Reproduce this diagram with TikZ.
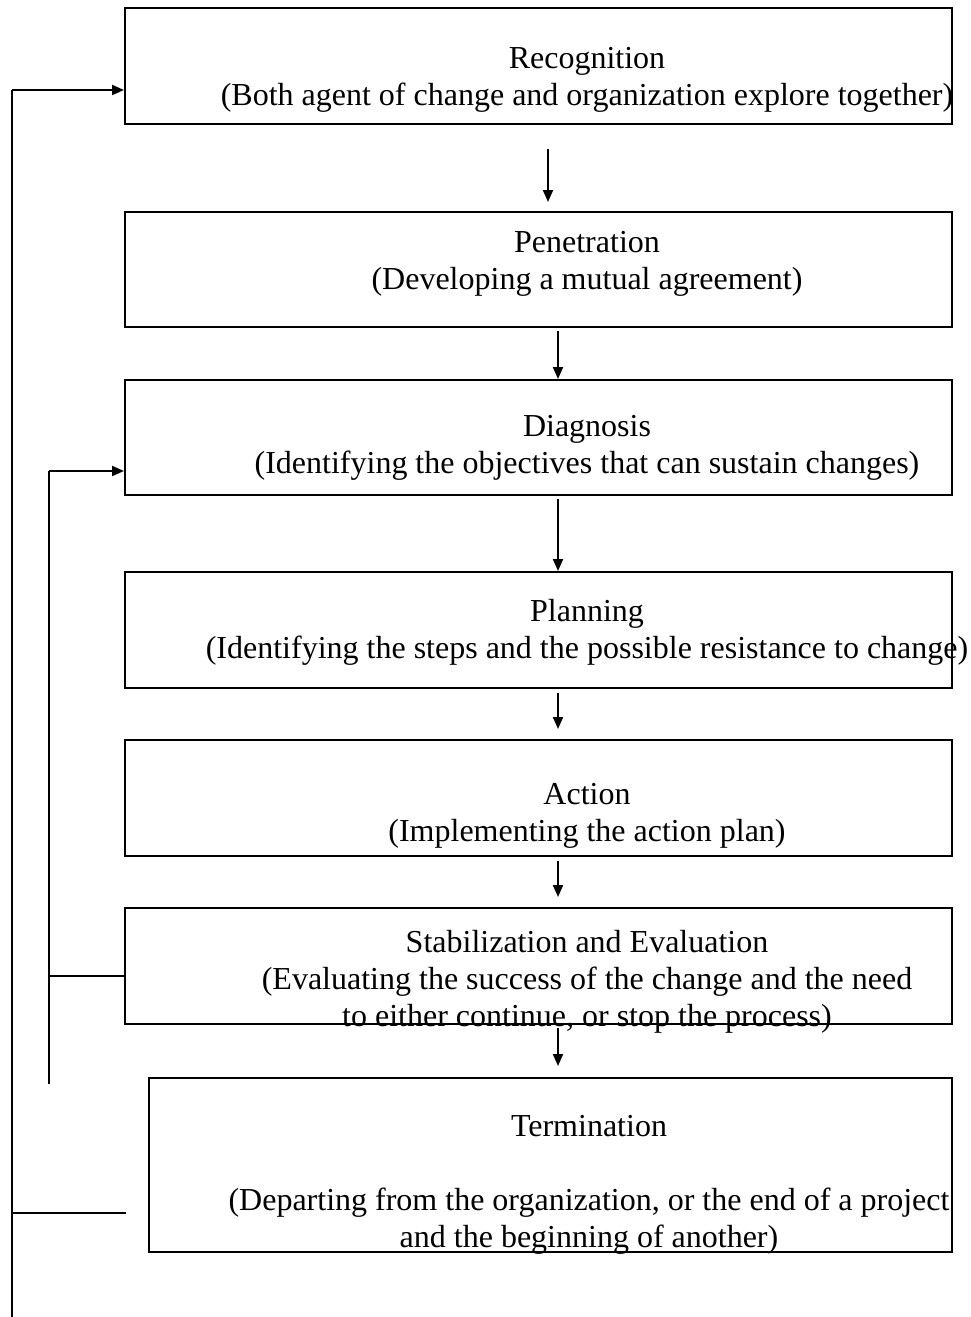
\documentclass[tikz,border=0pt]{standalone}
\usepackage{fontspec}
\setmainfont{Liberation Serif}
\usetikzlibrary{arrows.meta}
\begin{document}
\begin{tikzpicture}[x=1pt,y=-1pt,
  stage/.style={draw, line width=2pt, minimum width=#1, inner sep=0pt},
  stage/.default=827pt,
  label/.style={align=center, inner sep=0pt, font=\fontsize{32}{37}\selectfont},
  arr/.style={line width=2pt, -{Triangle[length=12pt,width=10pt]}},
  line/.style={line width=2pt}]
\useasboundingbox (0,0) rectangle (970,1317);
\fill[white] (0,0) rectangle (970,1317);

% stage boxes
\node[stage, minimum height=116pt] (rec) at (538.5,66) {};
\node[stage, minimum height=115pt] (pen) at (538.5,269.5) {};
\node[stage, minimum height=115pt] (dia) at (538.5,437.5) {};
\node[stage, minimum height=116pt] (pla) at (538.5,630) {};
\node[stage, minimum height=116pt] (act) at (538.5,798) {};
\node[stage, minimum height=116pt] (sta) at (538.5,966) {};
\node[stage=803pt, minimum height=174pt] (ter) at (550.5,1165) {};

% stage texts
\node[label] (recT) at (587,80) {Recognition\\(Both agent of change and organization explore together)};
\node[label] (penT) at (587,264) {Penetration\\(Developing a mutual agreement)};
\node[label] (diaT) at (587,448) {Diagnosis\\(Identifying the objectives that can sustain changes)};
\node[label] (plaT) at (587,632) {Planning\\(Identifying the steps and the possible resistance to change)};
\node[label] (actT) at (587,816) {Action\\(Implementing the action plan)};
\node[label] (staT) at (587,982) {Stabilization and Evaluation\\(Evaluating the success of the change and the need\\to either continue, or stop the process)};
\node[label] (terT) at (589,1185) {Termination\\\strut\\(Departing from the organization, or the end of a project\\and the beginning of another)};

% downward flow
\draw[arr] ([xshift=9.5pt,yshift=-24pt]rec.south) -- ([xshift=9.5pt,yshift=9pt]pen.north);
\draw[arr] ([xshift=19.5pt,yshift=-3pt]pen.south) -- ([xshift=19.5pt]dia.north);
\draw[arr] ([xshift=19.5pt,yshift=-3pt]dia.south) -- ([xshift=19.5pt]pla.north);
\draw[arr] ([xshift=19.5pt,yshift=-4pt]pla.south) -- ([xshift=19.5pt,yshift=10pt]act.north);
\draw[arr] ([xshift=19.5pt,yshift=-4pt]act.south) -- ([xshift=19.5pt,yshift=10pt]sta.north);
\coordinate (staEnd) at (558,1066);
\draw[arr] ([xshift=19.5pt,yshift=-3pt]sta.south) -- (staEnd);

% feedback loops
\coordinate (innerTop) at (49,471);
\coordinate (innerBot) at (49,1084);
\coordinate (innerJoin) at (49,976);
\draw[line] (innerBot) -- (innerTop);
\draw[arr] (innerTop) -- (dia.west |- innerTop);
\draw[line] (innerJoin) -- (sta.west |- innerJoin);

\coordinate (outerTop) at (12,90);
\coordinate (outerBot) at (12,1317);
\coordinate (outerJoin) at (12,1213);
\coordinate (outerTip) at (126,1213);
\draw[line] (outerBot) -- (outerTop);
\draw[arr] (outerTop) -- (rec.west |- outerTop);
\draw[line] (outerJoin) -- (outerTip);
\end{tikzpicture}
\end{document}
